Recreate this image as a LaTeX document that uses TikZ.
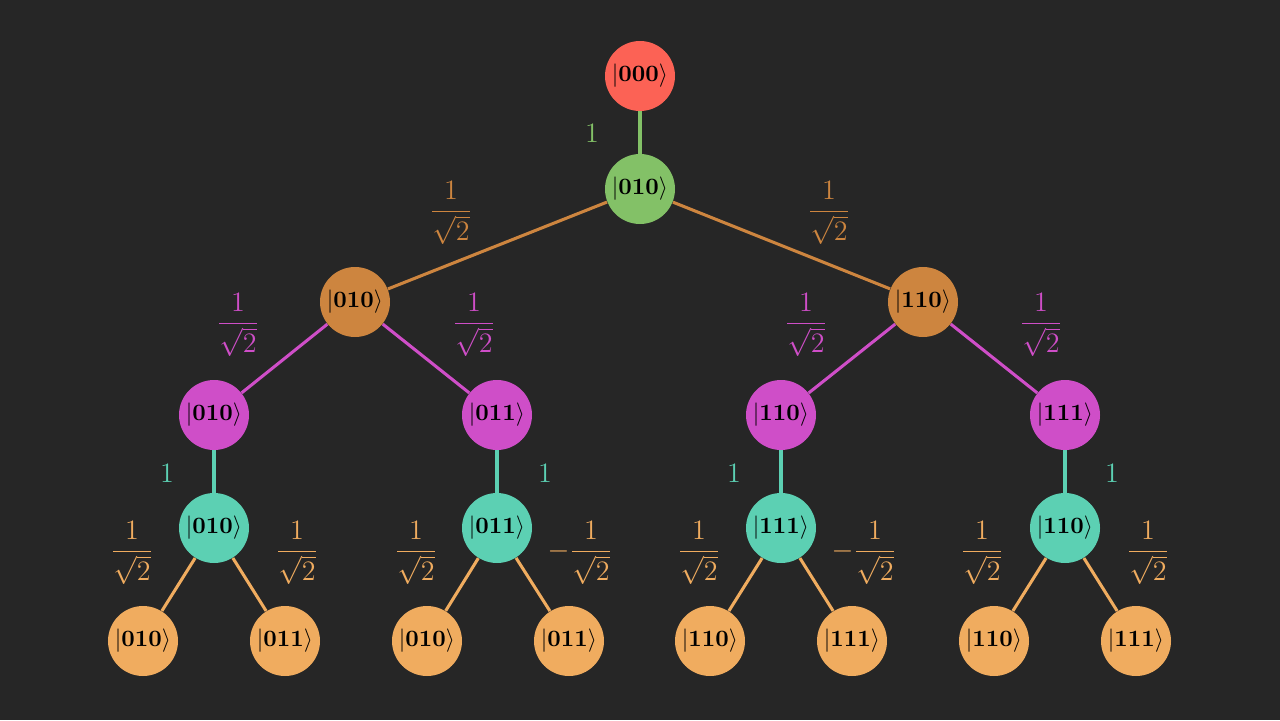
\documentclass[tikz,border=0pt]{standalone}
\usepackage{amsmath}
\usepackage{tikz}
\usetikzlibrary{positioning,backgrounds}
\definecolor{bgDark}{HTML}{262626}
\definecolor{qRed}{HTML}{FC6255}
\definecolor{qGreen}{HTML}{83C167}
\definecolor{qBrown}{HTML}{CD853F}
\definecolor{qPink}{HTML}{CF4EC8}
\definecolor{qTeal}{HTML}{5CD0B3}
\definecolor{qGold}{HTML}{F0AC5F}
\newcommand{\ket}[1]{$|\mathbf{#1}\rangle$}
\newcommand{\amp}{$\dfrac{1}{\sqrt{2}}$}
\newcommand{\namp}{$-\dfrac{1}{\sqrt{2}}$}

\begin{document}
\begin{tikzpicture}[
    x=0.015cm, y=-0.015cm,
    ket/.style={circle, fill=#1, minimum size=1.05cm, inner sep=0pt, text=black},
    edge/.style={draw=#1, line width=1.3pt},
    wt/.style={text=#1, font=\large}
]
\useasboundingbox (0,0) rectangle (1280,720);

% levels of the tree
\node[ket=qRed] (r) at (640,76) {\ket{000}};
\node[ket=qGreen] (g) at (640,189) {\ket{010}};

\node[ket=qBrown] (bL) at (355,302) {\ket{010}};
\node[ket=qBrown] (bR) at (923,302) {\ket{110}};

\node[ket=qPink] (p1) at (214,415) {\ket{010}};
\node[ket=qPink] (p2) at (497,415) {\ket{011}};
\node[ket=qPink] (p3) at (781,415) {\ket{110}};
\node[ket=qPink] (p4) at (1065,415) {\ket{111}};

\node[ket=qTeal] (t1) at (214,528) {\ket{010}};
\node[ket=qTeal] (t2) at (497,528) {\ket{011}};
\node[ket=qTeal] (t3) at (781,528) {\ket{111}};
\node[ket=qTeal] (t4) at (1065,528) {\ket{110}};

\node[ket=qGold] (l1) at (143,641) {\ket{010}};
\node[ket=qGold] (l2) at (285,641) {\ket{011}};
\node[ket=qGold] (l3) at (427,641) {\ket{010}};
\node[ket=qGold] (l4) at (569,641) {\ket{011}};
\node[ket=qGold] (l5) at (710,641) {\ket{110}};
\node[ket=qGold] (l6) at (852,641) {\ket{111}};
\node[ket=qGold] (l7) at (994,641) {\ket{110}};
\node[ket=qGold] (l8) at (1136,641) {\ket{111}};

% backdrop and branches, behind the circles
\begin{scope}[on background layer]
\fill[bgDark] (0,0) rectangle (1280,720);
\draw[edge=qGreen] (r) -- (g);
\draw[edge=qBrown] (g) -- (bL);
\draw[edge=qBrown] (g) -- (bR);
\draw[edge=qPink] (bL) -- (p1);
\draw[edge=qPink] (bL) -- (p2);
\draw[edge=qPink] (bR) -- (p3);
\draw[edge=qPink] (bR) -- (p4);
\foreach \i in {1,...,4}
    \draw[edge=qTeal] (p\i) -- (t\i);
\draw[edge=qGold] (t1) -- (l1);
\draw[edge=qGold] (t1) -- (l2);
\draw[edge=qGold] (t2) -- (l3);
\draw[edge=qGold] (t2) -- (l4);
\draw[edge=qGold] (t3) -- (l5);
\draw[edge=qGold] (t3) -- (l6);
\draw[edge=qGold] (t4) -- (l7);
\draw[edge=qGold] (t4) -- (l8);
\end{scope}

% amplitudes
\node[wt=qGreen] (a0) at (592,133) {$1$};
\node[wt=qBrown] (a1) at (451,213) {\amp};
\node[wt=qBrown] (a2) at (829,213) {\amp};
\node[wt=qPink] (a3) at (238,325) {\amp};
\node[wt=qPink] (a4) at (474,325) {\amp};
\node[wt=qPink] (a5) at (806,325) {\amp};
\node[wt=qPink] (a6) at (1041,325) {\amp};
\node[wt=qTeal] (a7) at (167,473) {$1$};
\node[wt=qTeal] (a8) at (545,473) {$1$};
\node[wt=qTeal] (a9) at (734,473) {$1$};
\node[wt=qTeal] (a10) at (1112,473) {$1$};
\node[wt=qGold] (a11) at (132,553) {\amp};
\node[wt=qGold] (a12) at (297,553) {\amp};
\node[wt=qGold] (a13) at (416,553) {\amp};
\node[wt=qGold] (a14) at (580,553) {\namp};
\node[wt=qGold] (a15) at (699,553) {\amp};
\node[wt=qGold] (a16) at (864,553) {\namp};
\node[wt=qGold] (a17) at (982,553) {\amp};
\node[wt=qGold] (a18) at (1148,553) {\amp};
\end{tikzpicture}
\end{document}
